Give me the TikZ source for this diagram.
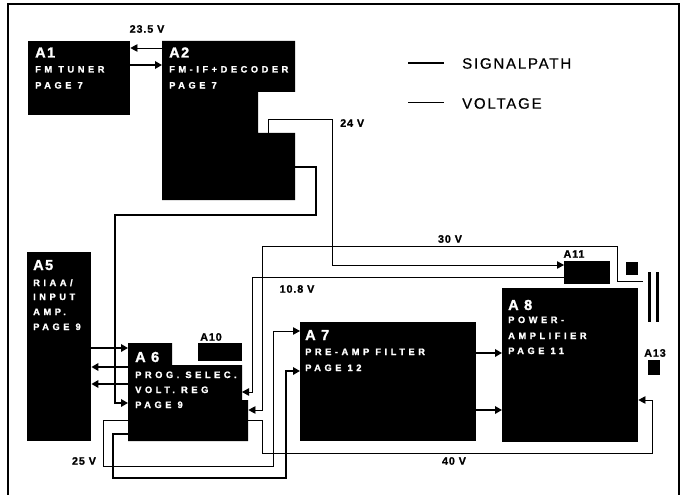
\documentclass[tikz,border=0pt]{standalone}
\usepackage{fontspec}
\setmainfont{Liberation Sans}
\newfontfamily\spfont[LetterSpace=38,FakeBold=1.5]{Liberation Sans Bold}
\newfontfamily\bigfont[LetterSpace=10,FakeBold=1.5]{Liberation Sans Bold}
\newfontfamily\legfont[LetterSpace=12,FakeBold=0.6]{Liberation Sans}
\newfontfamily\vfont[LetterSpace=8,FakeBold=1]{Liberation Sans Bold}
\usetikzlibrary{arrows.meta}
\begin{document}
\begin{tikzpicture}[x=1pt,y=-1pt,
  sig/.style={line width=2.2pt},
  volt/.style={line width=0.8pt},
  tip/.style={-{Triangle[length=7pt,width=7.5pt]}},
  blk/.style={fill=black,draw=none,inner sep=0pt,anchor=north west},
  ghost/.style={draw=none,inner sep=0pt,anchor=north west},
  sub/.style={text=white,anchor=base west,inner sep=0pt,font=\spfont\fontsize{9.3}{11}\selectfont},
  ttl/.style={text=white,anchor=base west,inner sep=0pt,font=\bigfont\fontsize{14.5}{17}\selectfont},
  vlab/.style={inner sep=0pt,font=\vfont\fontsize{10.8}{13}\selectfont},
  leg/.style={anchor=west,inner sep=0pt,font=\legfont\fontsize{15}{18}\selectfont}]
\useasboundingbox (0,0) rectangle (681,495);
% frame
\draw[line width=1.2pt] (8,495) -- (8,4) -- (679,4) -- (679,495);
% blocks
\node[blk,minimum width=102pt,minimum height=74pt] (A1) at (28,41) {};
\node[ghost,minimum width=133pt,minimum height=159pt] (A2) at (162,41) {};
\fill (162,41) -- (295,41) -- (295,92) -- (258,92) -- (258,133) -- (295,133) -- (295,200) -- (162,200) -- cycle;
\node[blk,minimum width=64pt,minimum height=189pt] (A5) at (27,252) {};
\node[ghost,minimum width=120pt,minimum height=98pt] (A6) at (128,343) {};
\fill (128,343) -- (172,343) -- (172,365) -- (242,365) -- (242,400) -- (248,400) -- (248,441) -- (128,441) -- cycle;
\node[blk,minimum width=176pt,minimum height=119pt] (A7) at (300,322) {};
\node[blk,minimum width=136pt,minimum height=154pt] (A8) at (502,288) {};
\node[blk,minimum width=44pt,minimum height=18pt] (A10) at (198,343) {};
\node[blk,minimum width=46pt,minimum height=23pt] (A11) at (564,261) {};
\node[blk,minimum width=12pt,minimum height=15pt] (A13) at (648,360) {};
\node[blk,minimum width=12pt,minimum height=13pt] (sq) at (626,262) {};
\node[blk,minimum width=3pt,minimum height=50pt] (barL) at (647.5,272) {};
\node[blk,minimum width=3pt,minimum height=50pt] (barR) at (655.5,272) {};
% texts in blocks
\node[ttl] (t1a) at (35,57.5) {A1};
\node[sub] (t1b) at (35,72.5) {FM TUNER};
\node[sub] (t1c) at (35,88.5) {PAGE 7};
\node[ttl] (t2a) at (169,57.5) {A2};
\node[sub] (t2b) at (169,72.5) {FM-IF+DECODER};
\node[sub] (t2c) at (169,88.5) {PAGE 7};
\node[ttl] (t5a) at (33,270) {A5};
\node[sub] (t5b) at (33,286) {RIAA/};
\node[sub] (t5c) at (33,300) {INPUT};
\node[sub] (t5d) at (33,315) {AMP.};
\node[sub] (t5e) at (33,330) {PAGE 9};
\node[ttl] (t6a) at (135,362) {A 6};
\node[sub] (t6b) at (135,378) {PROG. SELEC.};
\node[sub] (t6c) at (135,393) {VOLT. REG};
\node[sub] (t6d) at (135,408) {PAGE 9};
\node[ttl] (t7a) at (305,340) {A 7};
\node[sub] (t7b) at (305,355) {PRE-AMP FILTER};
\node[sub] (t7c) at (305,371) {PAGE 12};
\node[ttl] (t8a) at (508,310) {A 8};
\node[sub] (t8b) at (508,323) {POWER-};
\node[sub] (t8c) at (508,339) {AMPLIFIER};
\node[sub] (t8d) at (508,354) {PAGE 11};
% small labels
\node[vlab] (l10) at (211,337) {A10};
\node[vlab] (l11) at (574,254) {A11};
\node[vlab] (l13) at (655,353) {A13};
\node[vlab] (v235) at (147,29) {23.5 V};
\node[vlab,anchor=west] (v24) at (340,123) {24 V};
\node[vlab] (v30) at (450,239) {30 V};
\node[vlab] (v108) at (297,289) {10.8 V};
\node[vlab] (v25) at (84,461) {25 V};
\node[vlab] (v40) at (454,461) {40 V};
% legend
\coordinate (la1) at (408,63);
\coordinate (lb1) at (444,63);
\coordinate (la2) at (408,102);
\coordinate (lb2) at (444,102);
\draw[sig] (la1) -- (lb1);
\draw[volt] (la2) -- (lb2);
\node[leg] (lsig) at (462,63.5) {SIGNALPATH};
\node[leg] (lvolt) at (462,103.5) {VOLTAGE};
% connectors
\draw[volt,tip] (A2.west |- 0,48) -- (A1.east |- 0,48);
\draw[sig,tip] (A1.east |- 0,65) -- (A2.west |- 0,65);
\coordinate (n24) at (268,133);
\draw[volt,tip] (n24) |- (332,119) |- (A11.west |- 0,265);
\draw[sig,tip] (A2.east |- 0,167) -| (316,215) -| (115,403) -- (A6.west |- 0,403);
\draw[sig,tip] (A5.east |- 0,348) -- (A6.west |- 0,348);
\draw[sig,tip] (A6.west |- 0,367) -- (A5.east |- 0,367);
\draw[sig,tip] (A6.west |- 0,384) -- (A5.east |- 0,384);
\coordinate (a6n) at (242,392);
\draw[volt,tip] (A11.west |- 0,277) -| (252,392) -- (a6n);
\coordinate (p30) at (643,281);
\draw[volt,tip] (p30) -| (617,246) -| (262,410) -- (A6.east |- 0,410);
\draw[volt,tip] (A6.west |- 0,420) -| (103,466) -| (273,331) -- (A7.west |- 0,331);
\draw[sig,tip] (A6.west |- 0,434) -| (113,478) -| (286,371) -- (A7.west |- 0,371);
\draw[volt,tip] (A6.east |- 0,420) -| (262,453) -| (652,400) -- (A8.east |- 0,400);
\draw[sig,tip] (A7.east |- 0,353) -- (A8.west |- 0,353);
\draw[sig,tip] (A7.east |- 0,410) -- (A8.west |- 0,410);
\end{tikzpicture}
\end{document}
